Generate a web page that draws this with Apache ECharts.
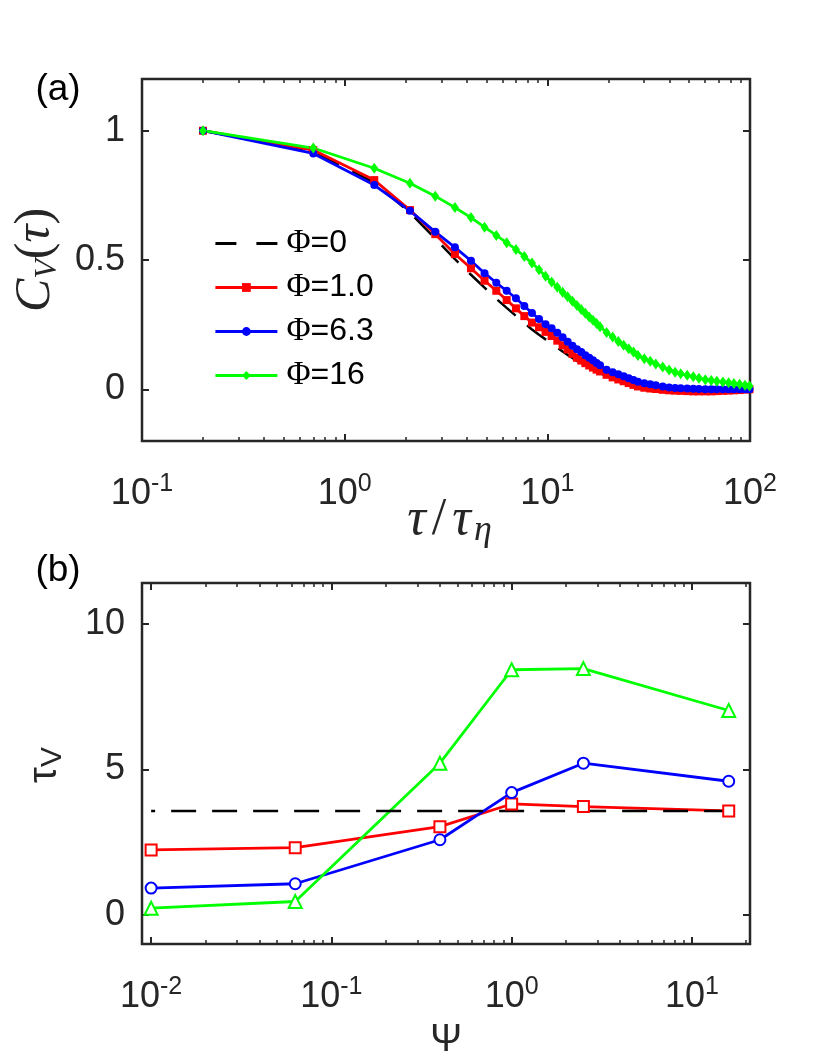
<!DOCTYPE html>
<html>
<head>
<meta charset="utf-8">
<script src="https://cdn.jsdelivr.net/npm/echarts@6/dist/echarts.min.js"></script>
<style>
  html, body { margin: 0; padding: 0; background: #fff; }
  #main { width: 830px; height: 1062px; }
</style>
</head>
<body>
<div id="main"></div>
<script>
// panel (a): C_V(tau) against tau / tau_eta
const tauA = [
  0.2, 0.7, 1.4, 2.1, 2.8, 3.5, 4.2, 4.9, 5.6, 6.3, 7, 7.7, 8.4, 9.1, 9.8, 10.5, 11.2, 11.9, 12.6, 13.3, 14,
  14.7, 15.4, 16.1, 16.8, 17.5, 18.2, 19.6, 21,
  22.4, 23.8, 25.2, 26.6, 28, 30.1, 32.2, 34.3,
  37.1, 39.9, 42.7, 45.5, 49, 52.5, 56, 60.2,
  64.4, 68.6, 73.5, 78.4, 83.3, 88.9, 94.5, 99.4
];
const cvPhi0 = [
  1.0, 0.920, 0.800, 0.683, 0.583, 0.503, 0.443, 0.393, 0.350, 0.315, 0.284, 0.256, 0.231, 0.211, 0.193, 0.177, 0.161, 0.146, 0.133, 0.121, 0.110,
  0.101, 0.092, 0.084, 0.077, 0.070, 0.063, 0.050, 0.042,
  0.034, 0.027, 0.021, 0.015, 0.010, 0.005, 0.002, 0.0,
  -0.002, -0.004, -0.005, -0.006, -0.007, -0.008, -0.008, -0.008,
  -0.008, -0.007, -0.006, -0.005, -0.004, -0.003, -0.001, 0.0
];
const cvPhi1 = [
  1.0, 0.925, 0.809, 0.693, 0.600, 0.523, 0.468, 0.420, 0.381, 0.345, 0.313, 0.283, 0.258, 0.240, 0.222, 0.206, 0.188, 0.170, 0.154, 0.137, 0.122,
  0.111, 0.101, 0.092, 0.084, 0.076, 0.069, 0.056, 0.046,
  0.038, 0.031, 0.024, 0.017, 0.011, 0.006, 0.003, 0.001,
  -0.002, -0.004, -0.005, -0.006, -0.007, -0.008, -0.008, -0.008,
  -0.008, -0.007, -0.006, -0.005, -0.004, -0.003, -0.001, 0.0
];
const cvPhi63 = [
  1.0, 0.912, 0.790, 0.690, 0.609, 0.549, 0.497, 0.449, 0.412, 0.381, 0.352, 0.322, 0.295, 0.272, 0.252, 0.236, 0.219, 0.201, 0.184, 0.168, 0.155,
  0.144, 0.132, 0.122, 0.112, 0.102, 0.093, 0.076, 0.066,
  0.058, 0.050, 0.043, 0.036, 0.029, 0.023, 0.019, 0.016,
  0.011, 0.007, 0.005, 0.004, 0.003, 0.002, 0.001, 0.0,
  0.0, 0.0, 0.0, 0.0, 0.0, 0.0, 0.0, 0.0
];
const cvPhi16 = [
  1.0, 0.933, 0.855, 0.797, 0.747, 0.703, 0.664, 0.627, 0.595, 0.567, 0.541, 0.514, 0.488, 0.462, 0.437, 0.415, 0.395, 0.375, 0.358, 0.340, 0.324,
  0.309, 0.294, 0.280, 0.267, 0.254, 0.242, 0.220, 0.202,
  0.185, 0.170, 0.157, 0.144, 0.131, 0.118, 0.108, 0.098,
  0.086, 0.075, 0.066, 0.060, 0.054, 0.048, 0.043, 0.037,
  0.034, 0.031, 0.028, 0.025, 0.022, 0.019, 0.016, 0.013
];
const legendNames = ['Φ=0', 'Φ=1.0', 'Φ=6.3', 'Φ=16'];

// panel (b): tau_V against Psi
const psi = [0.01, 0.063, 0.4, 1, 2.5, 16];
const tauVPhi0 = [3.57, 3.57, 3.57, 3.57, 3.57, 3.57];
const tauVPhi1 = [2.23, 2.31, 3.03, 3.81, 3.72, 3.57];
const tauVPhi63 = [0.92, 1.07, 2.58, 4.20, 5.21, 4.59];
const tauVPhi16 = [0.23, 0.46, 5.21, 8.42, 8.46, 7.02];

// ticks
const xTicksA = [0.1, 1, 10, 100];
const xMinorA = [0.2, 0.3, 0.4, 0.5, 0.6, 0.7, 0.8, 0.9, 2, 3, 4, 5, 6, 7, 8, 9, 20, 30, 40, 50, 60, 70, 80, 90];
const yTicksA = [0, 0.5, 1];
const xTicksB = [0.01, 0.1, 1, 10];
const xMinorB = [0.02, 0.03, 0.04, 0.05, 0.06, 0.07, 0.08, 0.09, 0.2, 0.3, 0.4, 0.5, 0.6, 0.7, 0.8, 0.9, 2, 3, 4, 5, 6, 7, 8, 9, 20];
const yTicksB = [0, 5, 10];

const INK = '#262626';
const SANS = '"Liberation Sans", Arial, sans-serif';
const SERIF = '"Liberation Serif", "DejaVu Serif", serif';

const pairs = (xs, ys) => xs.map((x, i) => [x, ys[i]]);

function expLabel(v) {
  const e = Math.round(Math.log10(v));
  return '{b|10}{e|' + e + '}';
}

function xAxesFor(gridIndex, min, max, major, minor) {
  const base = {
    type: 'log', logBase: 10, gridIndex, min, max,
    axisLine: { show: false, onZero: false },
    splitLine: { show: false },
    axisLabel: { show: false },
    axisTick: { show: false }
  };
  const majorTick = { show: true, inside: true, length: 7, customValues: major, lineStyle: { color: INK, width: 2 } };
  const minorTick = { show: true, inside: true, length: 4, customValues: minor, lineStyle: { color: INK, width: 1.5 } };
  return [
    Object.assign({}, base, {
      position: 'bottom',
      axisTick: majorTick,
      axisLabel: {
        show: true, customValues: major, margin: 31, formatter: expLabel,
        rich: {
          b: { fontSize: 36, fontFamily: SANS, color: INK, lineHeight: 44 },
          e: { fontSize: 25, fontFamily: SANS, color: INK, lineHeight: 14, verticalAlign: 'top' }
        }
      }
    }),
    Object.assign({}, base, { position: 'top', axisTick: majorTick }),
    Object.assign({}, base, { position: 'bottom', axisTick: minorTick }),
    Object.assign({}, base, { position: 'top', axisTick: minorTick })
  ];
}

function yAxesFor(gridIndex, min, max, ticks) {
  const base = {
    type: 'value', gridIndex, min, max,
    axisLine: { show: false, onZero: false },
    splitLine: { show: false },
    axisTick: { show: true, inside: true, length: 7, customValues: ticks, lineStyle: { color: INK, width: 2 } }
  };
  return [
    Object.assign({}, base, {
      position: 'left',
      axisLabel: { show: true, customValues: ticks, margin: 17, fontSize: 36, fontFamily: SANS, color: INK }
    }),
    Object.assign({}, base, { position: 'right', axisLabel: { show: false } })
  ];
}

function lineA(name, ys, color, symbol, size, extra) {
  return Object.assign({
    name, type: 'line', xAxisIndex: 0, yAxisIndex: 0,
    data: pairs(tauA, ys),
    symbol, symbolSize: size, showAllSymbol: true,
    lineStyle: { color, width: 2.8 },
    itemStyle: { color }
  }, extra || {});
}

function lineB(ys, color, symbol, size) {
  return {
    type: 'line', xAxisIndex: 4, yAxisIndex: 2,
    data: pairs(psi, ys),
    symbol, symbolSize: size, showAllSymbol: true,
    lineStyle: { color, width: 2.8 },
    itemStyle: { color, borderColor: color, borderWidth: 2.2 }
  };
}

const chart = echarts.init(document.getElementById('main'), null, { renderer: 'canvas' });

chart.setOption({
  animation: false,
  backgroundColor: '#fff',
  grid: [
    { left: 142, top: 79, width: 608, height: 362, show: true, borderColor: INK, borderWidth: 2.5, backgroundColor: '#fff' },
    { left: 142, top: 583, width: 608, height: 361, show: true, borderColor: INK, borderWidth: 2.5, backgroundColor: '#fff' }
  ],
  xAxis: [].concat(
    xAxesFor(0, 0.1, 100, xTicksA, xMinorA),
    xAxesFor(1, 0.0089, 21, xTicksB, xMinorB)
  ),
  yAxis: [].concat(
    yAxesFor(0, -0.2, 1.2, yTicksA),
    yAxesFor(1, -1, 11.4, yTicksB)
  ),
  legend: {
    data: [
      { name: legendNames[0], lineStyle: { type: [21, 20] }, itemStyle: { opacity: 0 } },
      legendNames[1], legendNames[2], legendNames[3]
    ],
    orient: 'vertical',
    left: 209, top: 222,
    itemWidth: 62, itemHeight: 11, itemGap: 11,
    lineStyle: { width: 2.8 },
    formatter: name => '{f|Φ}{n|' + name.slice(1) + '}',
    textStyle: {
      color: '#000', padding: [0, 0, 0, 4],
      rich: {
        f: { fontSize: 33, fontFamily: SERIF, color: '#000', lineHeight: 30 },
        n: { fontSize: 32, fontFamily: SANS, color: '#000', lineHeight: 30 }
      }
    }
  },
  graphic: [
    { type: 'text', x: 58, y: 90, style: { text: '(a)', font: '37px ' + SANS, fill: '#000', align: 'center', verticalAlign: 'middle' } },
    { type: 'text', x: 58, y: 571, style: { text: '(b)', font: '37px ' + SANS, fill: '#000', align: 'center', verticalAlign: 'middle' } },
    {
      type: 'text', x: 36, y: 260, rotation: Math.PI / 2,
      style: {
        text: '{c|C}{v|V}{p|(}{c|τ}{p|)}', align: 'center', verticalAlign: 'middle',
        rich: {
          c: { fontSize: 50, fontStyle: 'italic', fontFamily: SERIF, fill: INK, lineHeight: 56 },
          v: { fontSize: 32, fontStyle: 'italic', fontFamily: SERIF, fill: INK, lineHeight: 26, verticalAlign: 'bottom' },
          p: { fontSize: 50, fontFamily: SERIF, fill: INK, lineHeight: 56 }
        }
      }
    },
    {
      type: 'text', x: 448, y: 520,
      style: {
        text: '{c|τ}{p|/}{c|τ}{v|η}', align: 'center', verticalAlign: 'middle',
        rich: {
          c: { fontSize: 52, fontStyle: 'italic', fontFamily: SERIF, fill: INK, lineHeight: 58, padding: [0, 3, 0, 3] },
          p: { fontSize: 52, fontFamily: SERIF, fill: INK, lineHeight: 58, padding: [0, 3, 0, 3] },
          v: { fontSize: 36, fontStyle: 'italic', fontFamily: SERIF, fill: INK, lineHeight: 26, verticalAlign: 'bottom' }
        }
      }
    },
    {
      type: 'text', x: 45, y: 765, rotation: Math.PI / 2,
      style: {
        text: '{t|τ}{v|V}', align: 'center', verticalAlign: 'middle',
        rich: {
          t: { fontSize: 40, fontFamily: SANS, fill: INK, lineHeight: 46 },
          v: { fontSize: 30, fontFamily: SANS, fill: INK, lineHeight: 24, verticalAlign: 'bottom' }
        }
      }
    },
    { type: 'text', x: 446, y: 1041, style: { text: 'Ψ', font: '38px ' + SANS, fill: INK, align: 'center', verticalAlign: 'middle' } }
  ],
  series: [
    lineA(legendNames[0], cvPhi0, '#000000', 'none', 0, { lineStyle: { color: '#000000', width: 2.5, type: [24, 15] } }),
    lineA(legendNames[1], cvPhi1, '#ff0000', 'rect', 8),
    lineA(legendNames[2], cvPhi63, '#0000ff', 'circle', 8),
    lineA(legendNames[3], cvPhi16, '#00ff00', 'diamond', [8, 11]),
    lineB(tauVPhi1, '#ff0000', 'emptyRect', 11),
    lineB(tauVPhi63, '#0000ff', 'emptyCircle', 11),
    lineB(tauVPhi16, '#00ff00', 'emptyTriangle', 13),
    {
      type: 'line', xAxisIndex: 4, yAxisIndex: 2,
      data: pairs(psi, tauVPhi0), symbol: 'none',
      lineStyle: { color: '#000000', width: 2.5, type: [25, 16], dashOffset: 21 }
    }
  ]
});
</script>
</body>
</html>
